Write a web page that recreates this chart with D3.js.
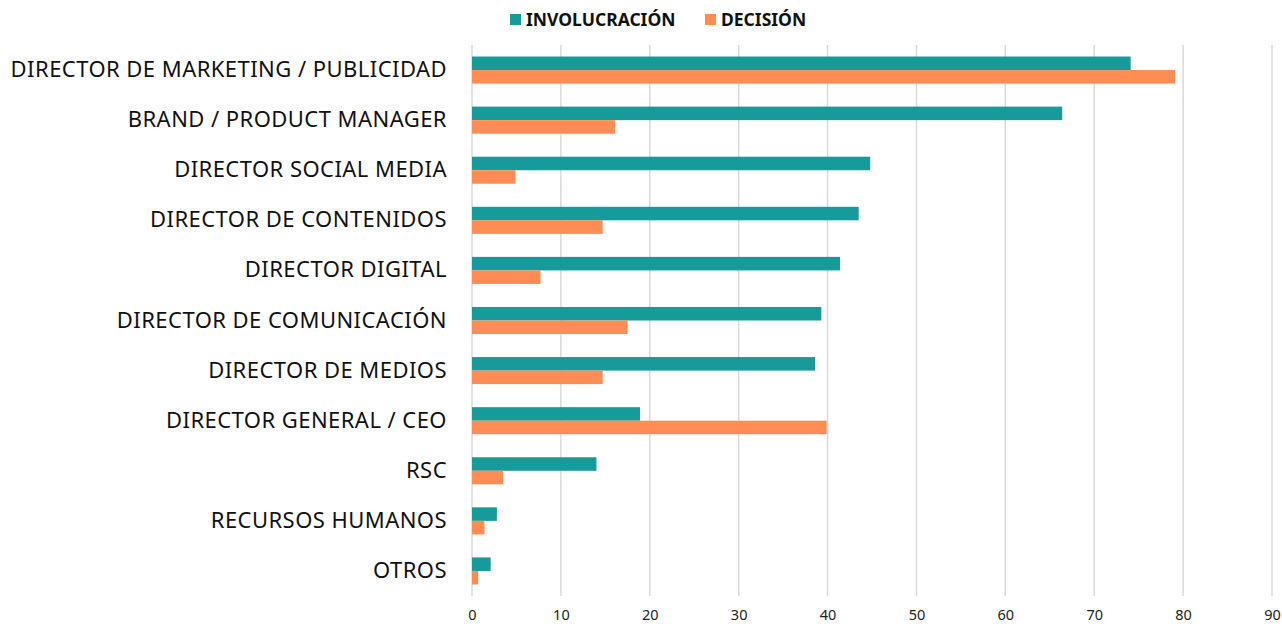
<!DOCTYPE html>
<html>
<head>
<meta charset="utf-8">
<script src="https://cdn.jsdelivr.net/npm/d3@7"></script>
<style>
  body { margin: 0; background: #fff; }
  svg { display: block; font-family: "Noto Sans", "Open Sans", sans-serif; }
</style>
</head>
<body>
<svg id="chart" width="1282" height="627"></svg>
<script>
const categories = [
    "DIRECTOR DE MARKETING / PUBLICIDAD",
    "BRAND / PRODUCT MANAGER",
    "DIRECTOR SOCIAL MEDIA",
    "DIRECTOR DE CONTENIDOS",
    "DIRECTOR DIGITAL",
    "DIRECTOR DE COMUNICACIÓN",
    "DIRECTOR DE MEDIOS",
    "DIRECTOR GENERAL / CEO",
    "RSC",
    "RECURSOS HUMANOS",
    "OTROS"
];
const involucracion = [74.1, 66.4, 44.8, 43.5, 41.4, 39.3, 38.6, 18.9, 14.0, 2.8, 2.1];
const decision = [79.1, 16.1, 4.9, 14.7, 7.7, 17.5, 14.7, 39.9, 3.5, 1.4, 0.7];
const seriesNames = ["INVOLUCRACIÓN", "DECISIÓN"];
const colors = ["#179b9a", "#ff8c55"];
const xTicks = [0, 10, 20, 30, 40, 50, 60, 70, 80, 90];

const svg = d3.select("#chart");
const margin = { top: 45, right: 10, bottom: 31, left: 472 };
const width = 1282, height = 627;

const x = d3.scaleLinear().domain([0, 90]).range([margin.left, 1272]);
const y = d3.scaleBand().domain(categories).range([margin.top, height - margin.bottom]).paddingInner(0.46).paddingOuter(0.23);
const ySub = d3.scaleBand().domain(seriesNames).range([0, y.bandwidth()]);

// gridlines
svg.append("g").selectAll("line").data(xTicks).enter().append("line")
    .attr("x1", d => x(d)).attr("x2", d => x(d))
    .attr("y1", margin.top).attr("y2", height - margin.bottom)
    .attr("stroke", "#d9d9d9").attr("stroke-width", 1.5);

// x axis labels
const xAxis = svg.append("g")
    .attr("transform", `translate(0,${height - margin.bottom})`)
    .call(d3.axisBottom(x).tickValues(xTicks).tickSize(0).tickPadding(14));
xAxis.select(".domain").remove();
xAxis.selectAll("text").attr("font-size", 14.5).attr("fill", "#222").attr("font-family", "Noto Sans, sans-serif");

// y labels
const yAxis = svg.append("g")
    .attr("transform", `translate(${margin.left},0)`)
    .call(d3.axisLeft(y).tickSize(0).tickPadding(25));
yAxis.select(".domain").remove();
yAxis.selectAll("text").attr("font-size", 22).attr("letter-spacing", 0.45)
    .attr("fill", "#111").attr("font-family", "Noto Sans, sans-serif");

// bars
const rows = categories.map((c, i) => ({ cat: c, vals: [involucracion[i], decision[i]] }));
const groups = svg.append("g").selectAll("g").data(rows).enter().append("g")
    .attr("transform", d => `translate(0,${y(d.cat)})`);
groups.selectAll("rect").data(d => d.vals.map((v, j) => ({ v, s: seriesNames[j], c: colors[j] })))
    .enter().append("rect")
    .attr("x", x(0))
    .attr("y", d => ySub(d.s))
    .attr("width", d => x(d.v) - x(0))
    .attr("height", ySub.bandwidth())
    .attr("fill", d => d.c);

// legend
const legend = svg.append("g").attr("font-size", 17.5).attr("font-weight", "bold").attr("fill", "#111");
const legendX = [510, 705];
seriesNames.forEach((s, i) => {
    legend.append("rect").attr("x", legendX[i]).attr("y", 14).attr("width", 11).attr("height", 11).attr("fill", colors[i]);
    legend.append("text").attr("x", legendX[i] + 16).attr("y", 26).text(s);
});
</script>
</body>
</html>
